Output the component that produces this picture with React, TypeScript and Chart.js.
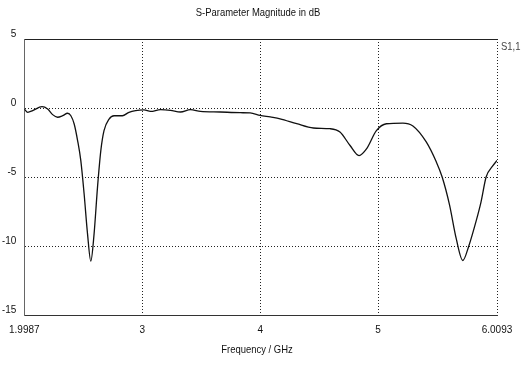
import React, { useEffect, useRef } from "react";
import { Chart, registerables } from "chart.js";

Chart.register(...registerables);

const TITLE = "S-Parameter Magnitude in dB";
const X_TITLE = "Frequency / GHz";
const SERIES_LABEL = "S1,1";

const FREQ_GHZ = [
  1.9987, 2.028, 2.07, 2.149, 2.197, 2.239, 2.281, 2.324, 2.366, 2.394,
  2.422, 2.451, 2.478, 2.506, 2.535, 2.563, 2.591, 2.62, 2.648, 2.675,
  2.718, 2.76, 2.831, 2.887, 2.943, 3.014, 3.07, 3.155, 3.239, 3.324,
  3.408, 3.493, 3.662, 3.831, 3.915, 4.0, 4.085, 4.169, 4.31, 4.451,
  4.592, 4.677, 4.761, 4.839, 4.902, 4.986, 5.071, 5.211, 5.296, 5.409,
  5.494, 5.544, 5.606, 5.663, 5.719, 5.77, 5.832, 5.874, 5.917, 5.973,
  6.0093,
];
const S11_DB = [
  -0.07, -0.31, -0.19, 0.1, -0.07, -0.48, -0.67, -0.56, -0.38, -0.56,
  -1.16, -2.36, -3.8, -6.2, -9.1, -11.1, -9.1, -5.73, -3.09, -1.64,
  -0.8, -0.56, -0.56, -0.31, -0.19, -0.14, -0.25, -0.12, -0.17, -0.29,
  -0.12, -0.24, -0.29, -0.34, -0.36, -0.53, -0.65, -0.78, -1.14, -1.45,
  -1.5, -1.74, -2.7, -3.45, -2.97, -1.64, -1.14, -1.09, -1.3, -2.46,
  -3.9, -5.0, -7.0, -9.45, -11.05, -10.0, -8.2, -6.8, -5.0, -4.2,
  -3.8,
];

const X_TICKS = [1.9987, 3, 4, 5, 6.0093];
const X_TICK_LABELS = ["1.9987", "3", "4", "5", "6.0093"];
const Y_TICKS = [-15, -10, -5, 0, 5];
const Y_TICK_LABELS = ["-15", "-10", "-5", "0", "5"];

const FONT_FAMILY = "'Liberation Sans Narrow', 'Liberation Sans', Arial, sans-serif";

export default function App() {
  const ref = useRef<HTMLCanvasElement | null>(null);

  useEffect(() => {
    const canvas = ref.current;
    if (!canvas) return;

    const drawText = (c: any, text: string, x: number, y: number, align: string) => {
      c.save();
      c.translate(x, y);
      c.scale(0.9, 1);
      c.textAlign = align;
      c.fillText(text, 0, 0);
      c.restore();
    };

    const textPlugin = {
      id: "texts",
      beforeDraw(chart: any) {
        const c = chart.ctx;
        c.save();
        c.fillStyle = "#fff";
        c.fillRect(0, 0, chart.width, chart.height);
        c.restore();
      },
      afterDraw(chart: any) {
        const c = chart.ctx;
        c.save();
        c.fillStyle = "#111";
        c.font = `10.5px ${FONT_FAMILY}`;
        c.textBaseline = "middle";
        drawText(c, TITLE, 258, 13, "center");
        drawText(c, X_TITLE, 257, 350, "center");
        c.fillStyle = "#444";
        drawText(c, SERIES_LABEL, 501, 47, "left");
        c.restore();
      },
    };

    const chart = new Chart(canvas, {
      type: "line",
      data: {
        datasets: [
          {
            label: SERIES_LABEL,
            data: FREQ_GHZ.map((f, i) => ({ x: f, y: S11_DB[i] })),
            borderColor: "#111",
            borderWidth: 1.3,
            pointRadius: 0,
            cubicInterpolationMode: "monotone",
            fill: false,
          },
        ],
      },
      options: {
        animation: false,
        responsive: false,
        layout: { padding: { left: 0, right: 28, top: 39, bottom: 0 } },
        plugins: {
          legend: { display: false },
          title: { display: false },
          tooltip: { enabled: false },
        },
        scales: {
          x: {
            type: "linear",
            position: "bottom",
            min: 1.9987,
            max: 6.0093,
            afterBuildTicks: (s: any) => {
              s.ticks = X_TICKS.map((v) => ({ value: v }));
            },
            afterFit: (s: any) => {
              s.height = 59;
            },
            ticks: {
              autoSkip: false,
              maxRotation: 0,
              padding: 9,
              color: "#111",
              font: { size: 10, family: FONT_FAMILY },
              callback: (_v: any, i: number) => X_TICK_LABELS[i],
            },
            grid: {
              drawTicks: false,
              color: (ctx: any) =>
                ctx.tick && ctx.tick.value === 1.9987 ? "rgba(0,0,0,0)" : "#222",
              lineWidth: 1,
            },
            border: { display: true, color: "#333", width: 1, dash: [1, 2] },
          },
          xTop: {
            type: "linear",
            position: "top",
            min: 1.9987,
            max: 6.0093,
            afterFit: (s: any) => {
              s.height = 0;
            },
            ticks: { display: false },
            grid: { display: false, drawTicks: false },
            border: { display: true, color: "#222", width: 1 },
          },
          y: {
            type: "linear",
            min: -15,
            max: 5,
            afterBuildTicks: (s: any) => {
              s.ticks = Y_TICKS.map((v) => ({ value: v }));
            },
            afterFit: (s: any) => {
              s.width = 22;
            },
            ticks: {
              autoSkip: false,
              padding: 8,
              labelOffset: -5,
              color: "#111",
              font: { size: 10, family: FONT_FAMILY },
              callback: (_v: any, i: number) => Y_TICK_LABELS[i],
            },
            grid: {
              drawTicks: false,
              color: (ctx: any) =>
                ctx.tick && (ctx.tick.value === 5 || ctx.tick.value === -15)
                  ? "rgba(0,0,0,0)"
                  : "#222",
              lineWidth: 1,
            },
            border: { display: true, color: "#666", width: 1, dash: [1, 2] },
          },
        },
      } as any,
      plugins: [textPlugin],
    });

    return () => chart.destroy();
  }, []);

  return (
    <div style={{ position: "absolute", left: 0, top: 0, width: 525, height: 374 }}>
      <canvas ref={ref} width={525} height={374} />
    </div>
  );
}
